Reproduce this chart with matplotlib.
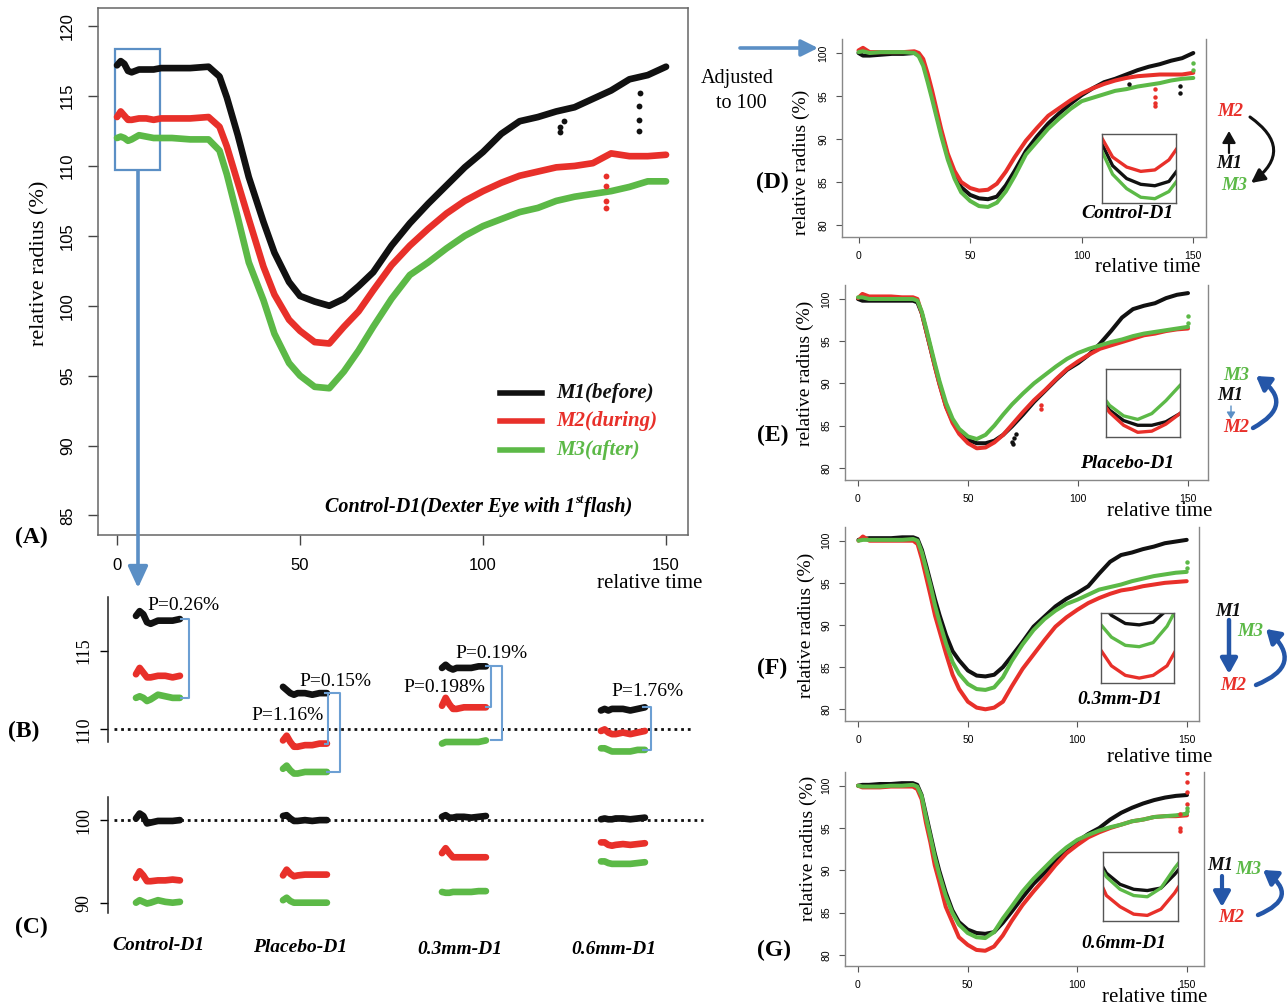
import matplotlib
matplotlib.use('Agg')
import matplotlib.pyplot as plt
from matplotlib.patches import Rectangle, FancyArrowPatch
from matplotlib.lines import Line2D

# ------------------------------------------------------------------ data
# Panel A (raw relative radius, Control-D1)
tA = [0, 1, 2, 3, 4, 6, 8, 10, 12, 15, 20, 25, 28, 30, 33, 36, 40, 43, 47, 50,
      54, 58, 62, 66, 70, 75, 80, 85, 90, 95, 100, 105, 110, 115, 120, 125, 130,
      135, 140, 145, 150]
A_M1 = [117.2, 117.5, 117.3, 116.8, 116.7, 116.9, 116.9, 116.9, 117.0, 117.0, 117.0,
        117.1, 116.4, 114.9, 112.2, 109.2, 106.0, 103.8, 101.7, 100.7, 100.3, 100.0,
        100.5, 101.4, 102.4, 104.3, 105.9, 107.3, 108.6, 109.9, 111.0, 112.3, 113.2,
        113.5, 113.9, 114.2, 114.8, 115.4, 116.2, 116.5, 117.1]
A_M2 = [113.5, 113.9, 113.6, 113.3, 113.3, 113.4, 113.4, 113.3, 113.4, 113.4, 113.4,
        113.5, 112.8, 111.4, 108.8, 106.2, 102.8, 100.8, 99.0, 98.2, 97.4, 97.3,
        98.5, 99.6, 101.1, 102.9, 104.3, 105.5, 106.6, 107.5, 108.2, 108.8, 109.3,
        109.6, 109.9, 110.0, 110.2, 110.9, 110.7, 110.7, 110.8]
A_M3 = [112.0, 112.1, 112.0, 111.8, 111.9, 112.2, 112.1, 112.0, 112.0, 112.0, 111.9,
        111.9, 111.1, 109.4, 106.3, 103.1, 100.4, 98.0, 95.9, 95.0, 94.2, 94.1,
        95.3, 96.8, 98.5, 100.5, 102.2, 103.1, 104.1, 105.0, 105.7, 106.2, 106.7,
        107.0, 107.5, 107.8, 108.0, 108.2, 108.5, 108.9, 108.9]
A_M1_out_t = [121, 121, 122, 142.5, 142.5, 142.5, 143]
A_M1_out_v = [112.4, 112.8, 113.2, 112.5, 113.3, 114.3, 115.2]
A_M2_out_t = [133.5, 133.5, 133.5, 133.5]
A_M2_out_v = [109.3, 108.6, 107.5, 107.0]

# Panels B / C : first seconds of each recording
groups = ['Control-D1', 'Placebo-D1', '0.3mm-D1', '0.6mm-D1']
seg_t = [0, 1, 2, 3, 4, 6, 8, 10, 12]
B_M1 = [A_M1[:9],
        [112.7, 112.5, 112.3, 112.2, 112.3, 112.3, 112.2, 112.3, 112.3],
        [113.9, 114.1, 113.9, 113.8, 113.9, 113.9, 113.9, 114.0, 114.0],
        [111.2, 111.3, 111.2, 111.3, 111.3, 111.3, 111.2, 111.3, 111.4]]
B_M2 = [A_M2[:9],
        [109.3, 109.6, 109.2, 108.9, 108.9, 109.0, 109.0, 109.1, 109.1],
        [111.5, 112.0, 111.6, 111.3, 111.3, 111.4, 111.4, 111.4, 111.4],
        [109.9, 110.0, 109.8, 109.7, 109.7, 109.8, 109.7, 109.8, 109.9]]
B_M3 = [A_M3[:9],
        [107.5, 107.7, 107.4, 107.2, 107.2, 107.3, 107.3, 107.3, 107.3],
        [109.1, 109.2, 109.2, 109.2, 109.2, 109.2, 109.2, 109.2, 109.3],
        [108.8, 108.8, 108.7, 108.6, 108.6, 108.6, 108.6, 108.7, 108.7]]
C_M1 = [[100.2, 100.8, 100.5, 99.6, 99.7, 99.9, 99.9, 99.9, 100.0],
        [100.5, 100.6, 100.2, 99.9, 99.9, 100.0, 99.9, 100.0, 100.0],
        [100.4, 100.6, 100.3, 100.3, 100.4, 100.4, 100.3, 100.4, 100.5],
        [100.1, 100.2, 100.1, 100.1, 100.2, 100.2, 100.1, 100.2, 100.3]]
C_M2 = [[93.0, 93.8, 93.3, 92.6, 92.6, 92.7, 92.7, 92.8, 92.7],
        [93.3, 94.0, 93.5, 93.2, 93.3, 93.4, 93.4, 93.4, 93.4],
        [96.0, 96.6, 96.0, 95.5, 95.5, 95.5, 95.5, 95.5, 95.5],
        [97.3, 97.3, 97.0, 96.9, 97.0, 97.1, 97.0, 97.1, 97.2]]
C_M3 = [[90.0, 90.3, 90.1, 89.9, 90.0, 90.3, 90.1, 90.0, 90.1],
        [90.3, 90.6, 90.2, 90.0, 90.0, 90.0, 90.0, 90.0, 90.0],
        [91.3, 91.2, 91.2, 91.3, 91.3, 91.3, 91.3, 91.4, 91.4],
        [95.0, 95.0, 94.8, 94.7, 94.7, 94.7, 94.7, 94.8, 94.9]]
p_labels = ['P=0.26%', 'P=0.15%', 'P=1.16%', 'P=0.198%', 'P=0.19%', 'P=1.76%']

# Panels D-G (adjusted to 100)
tR = [0, 2, 5, 10, 15, 20, 25, 27, 29, 31, 33, 35, 37, 40, 43, 46, 50, 54, 58, 62,
      66, 70, 75, 80, 85, 90, 95, 100, 105, 110, 115, 120, 125, 130, 135, 140, 145, 150]
D_M1 = [100.0, 99.7, 99.7, 99.8, 99.9, 99.9, 100.0, 99.8, 98.8, 97.0, 95.0, 92.9, 90.8,
        88.0, 85.9, 84.4, 83.5, 83.1, 83.0, 83.3, 84.6, 86.3, 88.6, 90.3, 91.8, 93.0,
        94.1, 95.1, 95.9, 96.6, 97.0, 97.5, 98.0, 98.4, 98.7, 99.1, 99.4, 100.0]
D_M2 = [100.3, 100.6, 100.1, 100.1, 100.1, 100.1, 100.2, 100.0, 99.3, 97.6, 95.6, 93.4,
        91.2, 88.3, 86.3, 85.0, 84.3, 84.0, 84.1, 84.8, 86.2, 87.9, 89.8, 91.3, 92.7,
        93.6, 94.5, 95.3, 95.9, 96.4, 96.8, 97.1, 97.3, 97.4, 97.5, 97.5, 97.5, 97.7]
D_M3 = [100.1, 100.2, 100.0, 100.1, 100.1, 100.1, 100.0, 99.6, 98.5, 96.6, 94.6, 92.5,
        90.4, 87.6, 85.4, 83.8, 82.8, 82.2, 82.1, 82.6, 83.9, 85.7, 88.2, 89.7, 91.2,
        92.4, 93.5, 94.4, 94.8, 95.2, 95.6, 95.8, 96.1, 96.3, 96.5, 96.8, 97.0, 97.1]
D_out = {'M1': ([121, 144, 144], [96.4, 96.2, 95.4]),
         'M2': ([133, 133, 133, 133], [95.8, 94.9, 94.2, 93.8]),
         'M3': ([150, 150], [98.8, 98.0])}
E_M1 = [100.0, 99.8, 99.8, 99.8, 99.8, 99.8, 99.8, 99.6, 98.3, 96.2, 94.1, 92.0, 90.0,
        87.3, 85.5, 84.2, 83.3, 82.9, 82.9, 83.2, 83.9, 84.9, 86.3, 87.8, 89.1, 90.4,
        91.6, 92.4, 93.4, 94.7, 96.2, 97.8, 98.8, 99.2, 99.5, 100.1, 100.5, 100.7]
E_M2 = [100.1, 100.6, 100.3, 100.3, 100.3, 100.2, 100.2, 100.0, 98.3, 96.2, 94.1, 91.9,
        89.9, 87.2, 85.3, 84.0, 82.9, 82.3, 82.4, 83.0, 83.9, 85.1, 86.6, 88.0, 89.2,
        90.5, 91.7, 92.6, 93.4, 94.1, 94.5, 94.9, 95.3, 95.7, 95.9, 96.2, 96.4, 96.5]
E_M3 = [100.2, 100.2, 100.0, 100.0, 100.0, 100.0, 100.0, 99.8, 98.5, 96.5, 94.4, 92.3,
        90.3, 87.7, 85.8, 84.6, 83.7, 83.4, 83.9, 85.0, 86.3, 87.5, 88.8, 90.0, 91.0,
        92.0, 92.9, 93.6, 94.1, 94.5, 94.9, 95.2, 95.6, 95.9, 96.1, 96.3, 96.5, 96.7]
E_out = {'M1': ([70, 70.5, 71, 72], [83.0, 82.8, 83.5, 84.0]),
         'M2': ([83, 83], [87.4, 86.9]),
         'M3': ([150, 150], [98.0, 97.2])}
F_M1 = [100.1, 100.2, 100.3, 100.3, 100.3, 100.4, 100.4, 100.2, 98.9, 97.0, 95.0, 93.0,
        91.2, 88.8, 86.9, 85.8, 84.6, 84.0, 83.9, 84.1, 85.0, 86.3, 88.0, 89.8, 91.0,
        92.2, 93.1, 93.8, 94.6, 96.1, 97.5, 98.3, 98.6, 99.0, 99.3, 99.7, 99.9, 100.1]
F_M2 = [100.0, 100.5, 100.0, 100.0, 100.0, 100.0, 100.0, 99.6, 97.8, 95.6, 93.4, 91.1,
        89.3, 86.6, 84.1, 82.4, 80.9, 80.2, 80.0, 80.2, 80.9, 82.7, 84.8, 86.5, 88.2,
        89.8, 90.9, 91.8, 92.6, 93.2, 93.7, 94.1, 94.3, 94.6, 94.8, 95.0, 95.1, 95.2]
F_M3 = [100.0, 100.1, 100.1, 100.1, 100.1, 100.1, 100.2, 100.0, 98.6, 96.6, 94.6, 92.3,
        90.4, 87.8, 85.6, 84.2, 83.0, 82.4, 82.3, 82.6, 83.8, 85.7, 87.7, 89.4, 90.7,
        91.7, 92.5, 93.0, 93.6, 94.2, 94.5, 94.8, 95.2, 95.5, 95.8, 96.0, 96.2, 96.3]
F_out = {'M1': ([], []), 'M2': ([], []), 'M3': ([150, 150], [97.5, 96.8])}
G_M1 = [100.0, 100.1, 100.1, 100.2, 100.2, 100.3, 100.3, 100.1, 98.9, 96.6, 94.3, 92.0,
        90.0, 87.4, 85.3, 83.9, 83.0, 82.6, 82.5, 82.7, 83.8, 85.1, 86.8, 88.4, 89.7,
        91.1, 92.4, 93.4, 94.3, 95.0, 96.0, 96.8, 97.4, 97.9, 98.3, 98.6, 98.8, 98.9]
G_M2 = [100.0, 99.8, 99.8, 99.8, 99.9, 99.9, 99.9, 99.6, 98.4, 95.6, 93.3, 90.6, 88.7,
        85.7, 83.9, 82.1, 81.2, 80.6, 80.5, 81.0, 82.3, 84.0, 85.9, 87.5, 89.0, 90.6,
        92.0, 93.0, 93.9, 94.5, 95.0, 95.4, 95.8, 96.0, 96.3, 96.4, 96.4, 96.5]
G_M3 = [100.0, 99.9, 99.9, 99.9, 100.0, 100.0, 100.1, 99.9, 98.8, 96.3, 94.0, 91.6, 89.6,
        87.0, 85.0, 83.6, 82.6, 82.1, 82.0, 82.7, 84.3, 85.7, 87.5, 89.0, 90.3, 91.6,
        92.7, 93.6, 94.2, 94.7, 95.1, 95.4, 95.8, 96.0, 96.3, 96.4, 96.5, 96.7]
G_out = {'M1': ([], []),
         'M2': ([147, 147, 147, 150, 150, 150, 150], [96.6, 95.0, 94.7, 101.5, 100.4, 99.2, 97.8]),
         'M3': ([150, 150], [97.4, 97.0])}

# ------------------------------------------------------------------ style
W, H = 1288, 1007
SERIF = 'Liberation Serif'
SANS = 'Liberation Sans'
BLACK, RED, GREEN = '#111111', '#e8302a', '#5cb947'
LBLUE = '#5b8fc5'
BRK = '#6c9fd3'
DBLUE = '#2456a8'
COLS = [BLACK, RED, GREEN]

fig = plt.figure(figsize=(W / 100, H / 100), dpi=100)


def box(x0, y0, x1, y1):
    return [x0 / W, 1 - y1 / H, (x1 - x0) / W, (y1 - y0) / H]


def fp(x, y):
    return (x / W, 1 - y / H)


def ftext(x, y, s, size, **kw):
    kw.setdefault('ha', 'center')
    kw.setdefault('va', 'center')
    kw.setdefault('family', SERIF)
    return fig.text(x / W, 1 - y / H, s, fontsize=size, **kw)


def farrow(p0, p1, color, lw, rad=0.0, hl=8, hw=5):
    a = FancyArrowPatch(fp(*p0), fp(*p1), transform=fig.transFigure,
                        arrowstyle=f'-|>,head_length={hl / 10:.2f},head_width={hw / 10:.2f}',
                        mutation_scale=10, color=color, lw=lw,
                        connectionstyle=f'arc3,rad={rad}', shrinkA=0, shrinkB=0)
    fig.add_artist(a)


BI = dict(family=SERIF, weight='bold', style='italic')
MI = dict(weight='bold', style='italic')

# ------------------------------------------------------------------ Panel A
axA = fig.add_axes(box(98, 8, 688, 535))
for v, c in zip([A_M1, A_M2, A_M3], COLS):
    axA.plot(tA, v, color=c, lw=4.8, solid_capstyle='round', solid_joinstyle='round')
axA.plot(A_M1_out_t, A_M1_out_v, 'o', color=BLACK, ms=4.2, mew=0)
axA.plot(A_M2_out_t, A_M2_out_v, 'o', color=RED, ms=4.2, mew=0)
axA.set_xlim(-5.2, 156)
axA.set_ylim(83.6, 121.3)
axA.set_xticks([0, 50, 100, 150])
axA.set_yticks([85, 90, 95, 100, 105, 110, 115, 120])
axA.set_yticklabels(['85', '90', '95', '100', '105', '110', '115', '120'],
                    rotation=90, va='center')
axA.tick_params(direction='out', length=7.5, width=1.0, color='#444444',
                labelsize=12, pad=9)
for lab in axA.get_xticklabels() + axA.get_yticklabels():
    lab.set_family(SANS)
for s in axA.spines.values():
    s.set_color('#666666')
    s.set_linewidth(1.1)
axA.add_patch(Rectangle((-0.55, 109.7), 12.3, 8.7, fill=False, ec=LBLUE, lw=1.6))
farrow((138, 171), (138, 588), LBLUE, 2.6, hl=13, hw=6)

# legend
for y, c, s in [(393, BLACK, 'M1(before)'), (421, RED, 'M2(during)'), (450, GREEN, 'M3(after)')]:
    fig.add_artist(Line2D([500 / W, 542 / W], [1 - y / H] * 2, color=c, lw=4,
                          transform=fig.transFigure))
    ftext(556, y, s, 15, ha='left', color=c, **MI)

t1 = ftext(325, 507, 'Control-D1(Dexter Eye with 1', 14.5, ha='left', **MI)
t2 = axA.annotate('st', xy=(1, 0.85), xycoords=t1, va='center', ha='left',
                  fontsize=9, annotation_clip=False, **BI)
axA.annotate('flash)', xy=(1, 0.5), xycoords=(t2, t1), va='center', ha='left',
             fontsize=14.5, annotation_clip=False, **BI)

ftext(40, 263, 'relative radius (%)', 16, rotation=90)
ftext(702, 583, 'relative time', 15, ha='right')
ftext(31, 537, '(A)', 17, weight='bold')

# ------------------------------------------------------------------ Panels B and C
PXU = 3.66                       # pixels per time unit (same as panel A)
seg_start_px = [136, 283, 442, 601]


def px2t(px):
    return (px - 108) / PXU


def short_axes(bx, ylim, yticks, dotted_y, dot_end):
    ax = fig.add_axes(box(*bx))
    ax.set_xlim(0, (bx[2] - bx[0]) / PXU)
    ax.set_ylim(*ylim)
    ax.patch.set_visible(False)
    for k in ['top', 'right', 'bottom']:
        ax.spines[k].set_visible(False)
    ax.spines['left'].set_color('#222222')
    ax.spines['left'].set_linewidth(1.1)
    ax.set_xticks([])
    ax.set_yticks(yticks)
    ax.set_yticklabels([str(v) for v in yticks], rotation=90, va='center',
                       family=SERIF, fontsize=13)
    ax.tick_params(axis='y', direction='out', length=6, width=1.0, pad=5)
    ax.plot([px2t(114), px2t(dot_end)], [dotted_y, dotted_y], color='#111111',
            lw=2.0, ls=(0, (1.0, 1.4)), clip_on=False)
    return ax


axB = short_axes((108, 597, 700, 742), (109.2, 118.4), [110, 115], 110, 694)
axC = short_axes((108, 797, 700, 913), (88.75, 102.8), [90, 100], 100, 703)
for ax, sets in [(axB, (B_M1, B_M2, B_M3)), (axC, (C_M1, C_M2, C_M3))]:
    for gi in range(4):
        x = [px2t(seg_start_px[gi]) + t for t in seg_t]
        for vals, c in zip(sets, COLS):
            ax.plot(x, vals[gi], color=c, lw=4.8, solid_capstyle='round', clip_on=False)


def bracket(ax, x_px, left_px, y_top, y_bot):
    xs = [px2t(left_px), px2t(x_px), px2t(x_px), px2t(left_px)]
    ax.plot(xs, [y_top, y_top, y_bot, y_bot], color=BRK, lw=1.5, clip_on=False)


bracket(axB, 189, 181, B_M1[0][-1], B_M3[0][-1])
bracket(axB, 328, 325, B_M1[1][-1], B_M2[1][-1])
bracket(axB, 340, 327, B_M1[1][-1], B_M3[1][-1])
bracket(axB, 491, 486, B_M1[2][-1], B_M2[2][-1])
bracket(axB, 502, 491, B_M1[2][-1], B_M3[2][-1])
bracket(axB, 651, 643, B_M1[3][-1], B_M3[3][-1])

for (x, y), s in zip([(147, 606), (299, 681), (251, 715), (403, 688), (455, 653), (611, 691)],
                     p_labels):
    ftext(x, y, s, 14, ha='left')

for x, y, g in zip([158, 300, 460, 614], [945, 947, 949, 950], groups):
    ftext(x, y, g, 14, **MI)

ftext(24, 731, '(B)', 17, weight='bold')
ftext(31, 927, '(C)', 17, weight='bold')

# ------------------------------------------------------------------ Panels D-G
right_specs = [
    # axes box, x(t=0), x(t=150), y(100), y(80), series, outliers, inset box, inset xlim, inset ylim
    ((842, 39, 1206, 237), 858.5, 1193.3, 53, 225, (D_M1, D_M2, D_M3), D_out,
     (1102, 134, 1176, 203), (43, 64), (81.8, 86.6)),
    ((845, 285, 1208, 480), 858, 1188, 299, 467.7, (E_M1, E_M2, E_M3), E_out,
     (1106, 369, 1180, 437), (45, 66), (81.9, 87.7)),
    ((845, 527, 1199.3, 720.7), 858.5, 1186.7, 540.7, 709.3, (F_M1, F_M2, F_M3), F_out,
     (1101, 613, 1174, 683), (47, 68), (79.64, 84.77)),
    ((845, 771.7, 1203.6, 965.7), 858, 1187, 785.7, 955, (G_M1, G_M2, G_M3), G_out,
     (1103, 852, 1178, 921), (45, 67), (80.05, 85.6)),
]

for bx, x0, x150, y100, y80, series, outl, ibx, ixl, iyl in right_specs:
    ax = fig.add_axes(box(*bx))
    pxu = (x150 - x0) / 150
    pyu = (y80 - y100) / 20
    ax.set_xlim((bx[0] - x0) / pxu, (bx[2] - x0) / pxu)
    ax.set_ylim(80 - (bx[3] - y80) / pyu, 100 + (y100 - bx[1]) / pyu)
    for v, c in zip(series, COLS):
        ax.plot(tR, v, color=c, lw=2.9, solid_capstyle='round', solid_joinstyle='round')
    for key, c in zip(['M1', 'M2', 'M3'], COLS):
        ax.plot(outl[key][0], outl[key][1], 'o', color=c, ms=3.2, mew=0)
    ax.set_xticks([0, 50, 100, 150])
    ax.set_yticks([80, 85, 90, 95, 100])
    ax.set_yticklabels(['80', '85', '90', '95', '100'], rotation=90, va='center')
    ax.tick_params(direction='out', length=4, width=0.8, color='#555555',
                   labelsize=7.5, pad=6)
    for lab in ax.get_xticklabels() + ax.get_yticklabels():
        lab.set_family(SANS)
    ax.spines['top'].set_visible(False)
    for k in ['left', 'right', 'bottom']:
        ax.spines[k].set_color('#888888')
        ax.spines[k].set_linewidth(1.0)
    # inset: zoom on the minimum
    ai = fig.add_axes(box(*ibx))
    for v, c in zip(series, COLS):
        ai.plot(tR, v, color=c, lw=2.4, solid_capstyle='round')
    ai.set_xlim(*ixl)
    ai.set_ylim(*iyl)
    ai.set_xticks([])
    ai.set_yticks([])
    for s in ai.spines.values():
        s.set_color('#555555')
        s.set_linewidth(1.0)

# panel labels / axis titles
for (lx, ly, lab), (yx, yy), (tx, ty) in zip(
        [(772, 182, '(D)'), (773, 435, '(E)'), (772, 668, '(F)'), (774, 950, '(G)')],
        [(801, 162), (805, 373), (806, 625), (808, 848)],
        [(1148, 268), (1160, 512), (1160, 757), (1155, 998)]):
    ftext(lx, ly, lab, 17, weight='bold')
    ftext(yx, yy, 'relative radius (%)', 14, rotation=90)
    ftext(tx, ty, 'relative time', 15)

for (nx, ny), g in zip([(1127, 214), (1127, 463), (1120, 700), (1124, 943)], groups):
    ftext(nx, ny, g, 14, **MI)

ftext(737, 79, 'Adjusted', 14.5)
ftext(741, 103, 'to 100', 14.5)
farrow((740, 48), (818, 48), LBLUE, 2.6, hl=10, hw=5)

# D annotations
ftext(1230, 112, 'M2', 13.5, color=RED, **MI)
ftext(1229, 163, 'M1', 13.5, color=BLACK, **MI)
ftext(1234, 185, 'M3', 13.5, color=GREEN, **MI)
farrow((1229, 153), (1229, 131), BLACK, 1.6, hl=7, hw=4)
farrow((1250, 117), (1251, 183), BLACK, 2.2, rad=-0.68, hl=8, hw=4)
# E annotations
ftext(1236, 375, 'M3', 13.5, color=GREEN, **MI)
ftext(1230, 396, 'M1', 13.5, color=BLACK, **MI)
ftext(1236, 428, 'M2', 13.5, color=RED, **MI)
farrow((1231, 406), (1231, 419), LBLUE, 1.0, hl=4, hw=2.5)
farrow((1253, 428), (1256, 376), DBLUE, 3.2, rad=0.8, hl=8, hw=5)
# F annotations
ftext(1228, 611, 'M1', 13.5, color=BLACK, **MI)
ftext(1250, 632, 'M3', 13.5, color=GREEN, **MI)
ftext(1233, 685, 'M2', 13.5, color=RED, **MI)
farrow((1229, 620), (1229, 674), DBLUE, 3.2, hl=9, hw=5)
farrow((1256, 685), (1266, 629), DBLUE, 3.2, rad=0.8, hl=8, hw=5)
# G annotations
ftext(1220, 866, 'M1', 13.5, color=BLACK, **MI)
ftext(1248, 869, 'M3', 13.5, color=GREEN, **MI)
ftext(1231, 917, 'M2', 13.5, color=RED, **MI)
farrow((1222, 876), (1222, 907), DBLUE, 3.0, hl=9, hw=5)
farrow((1258, 915), (1263, 870), DBLUE, 3.2, rad=0.9, hl=8, hw=5)

fig.savefig('out.png', dpi=100)
